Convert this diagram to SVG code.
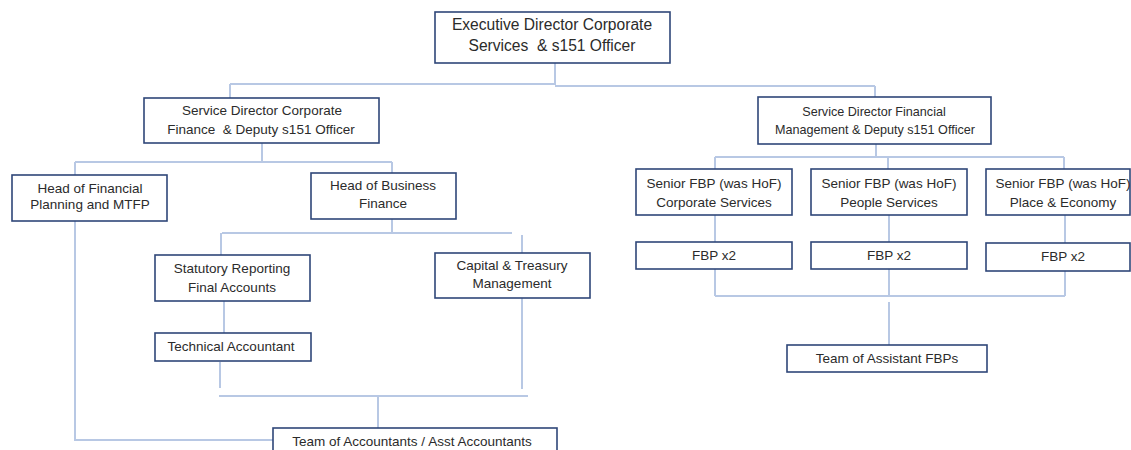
<svg xmlns="http://www.w3.org/2000/svg" width="1131" height="450" viewBox="0 0 1131 450">
<style>
.box{fill:#ffffff;stroke:#2f4678;stroke-width:1.6}
.c{fill:none;stroke:#b8c8e4;stroke-width:2}
text{font-family:"Liberation Sans",Arial,sans-serif;fill:#2b2b2b;text-anchor:middle;white-space:pre}
.t14{font-size:15.6px}
.t12{font-size:13.5px}
.t11{font-size:12.6px}
</style>
<rect width="1131" height="450" fill="#ffffff"/>
<g id="connectors">
<path class="c" d="M555 63V85M230 84H555M555 86H875M230 84V98M875 86V97"/>
<path class="c" d="M262 143V162M75 162H392M75 162V175M392 162V174M75 221V440H273"/>
<path class="c" d="M392 219V233M222 233H512M221 233V255M522 235V253M224 301V333M220 362V388M522 298V389M219 396H528M378 396V428"/>
<path class="c" d="M876 144V157M715 157H1064M715 157V169M888 157V169M1064 157V169"/>
<path class="c" d="M715 215V242M889 215V242M1065 215V243M715 269V296M889 269V296M1065 271V296M715 296H1065M889 302V345"/>
</g>
<g id="exec"><rect class="box" x="435" y="12" width="235" height="51"/><text class="t14" x="552" y="30">Executive Director Corporate</text><text class="t14" x="552" y="51">Services  &amp; s151 Officer</text></g>
<g id="sd-corp"><rect class="box" x="144" y="98" width="235" height="45"/><text class="t12" x="262" y="115">Service Director Corporate</text><text class="t12" x="261" y="134">Finance  &amp; Deputy s151 Officer</text></g>
<g id="sd-fin"><rect class="box" x="758" y="97" width="233" height="47"/><text class="t11" x="874" y="116">Service Director Financial</text><text class="t11" x="875" y="134">Management &amp; Deputy s151 Officer</text></g>
<g id="head-fp"><rect class="box" x="12" y="175" width="155" height="46"/><text class="t12" x="90" y="193">Head of Financial</text><text class="t12" x="90" y="209">Planning and MTFP</text></g>
<g id="head-bf"><rect class="box" x="311" y="173" width="145" height="46"/><text class="t12" x="383" y="190">Head of Business</text><text class="t12" x="383" y="208">Finance</text></g>
<g id="stat"><rect class="box" x="155" y="255" width="155" height="46"/><text class="t12" x="232" y="273">Statutory Reporting</text><text class="t12" x="232" y="292">Final Accounts</text></g>
<g id="tech"><rect class="box" x="155" y="333" width="156" height="28"/><text class="t12" x="231" y="351">Technical Accountant</text></g>
<g id="capital"><rect class="box" x="435" y="253" width="155" height="45"/><text class="t12" x="512" y="270">Capital &amp; Treasury</text><text class="t12" x="512" y="288">Management</text></g>
<g id="team-acc"><rect class="box" x="273" y="428" width="284" height="30"/><text class="t12" x="412" y="446">Team of Accountants / Asst Accountants</text></g>
<g id="sfbp-corp"><rect class="box" x="636" y="169" width="156" height="46"/><text class="t12" x="714" y="188">Senior FBP (was HoF)</text><text class="t12" x="714" y="207">Corporate Services</text></g>
<g id="sfbp-people"><rect class="box" x="811" y="169" width="156" height="46"/><text class="t12" x="889" y="188">Senior FBP (was HoF)</text><text class="t12" x="889" y="207">People Services</text></g>
<g id="sfbp-place"><rect class="box" x="986" y="169" width="144" height="46"/><text class="t12" x="1063" y="188">Senior FBP (was HoF)</text><text class="t12" x="1063" y="207">Place &amp; Economy</text></g>
<g id="fbp1"><rect class="box" x="636" y="242" width="156" height="27"/><text class="t12" x="714" y="260">FBP x2</text></g>
<g id="fbp2"><rect class="box" x="811" y="242" width="156" height="27"/><text class="t12" x="889" y="260">FBP x2</text></g>
<g id="fbp3"><rect class="box" x="986" y="243" width="144" height="28"/><text class="t12" x="1063" y="261">FBP x2</text></g>
<g id="team-fbp"><rect class="box" x="787" y="345" width="200" height="27"/><text class="t12" x="887" y="363">Team of Assistant FBPs</text></g>
</svg>
